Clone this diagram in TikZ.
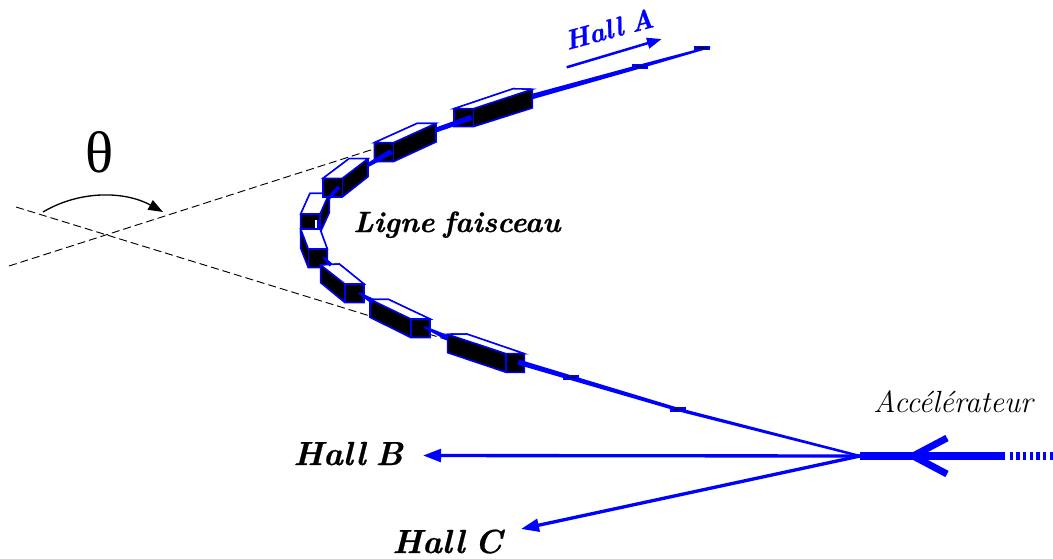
\documentclass[tikz,border=0pt]{standalone}
\usepackage{fontspec}
\newfontfamily\thetafont{Liberation Serif}
\newfontfamily\heavylab{Latin Modern Roman}[BoldItalicFeatures={FakeBold=0.7}]
\newcommand{\tightwords}{\spaceskip=.3em\relax}
\usetikzlibrary{arrows.meta,calc}
\definecolor{beamblue}{RGB}{0,0,255}
\tikzset{
  beamline/.style={draw=beamblue,line cap=butt},
  guide/.style={draw=black,line width=0.7pt,dash pattern=on 6pt off 3pt},
  hallarrow/.style={beamline,line width=2.5pt,-{Triangle[length=13.5pt,width=9.5pt]}},
  magnetedge/.style={draw=beamblue,line width=1.15pt,line join=miter},
  boldlab/.style={inner sep=0pt,font={\fontsize{#1}{30}\heavylab\bfseries\itshape\tightwords}},
  halllabel/.style={boldlab=25,anchor=base west},
  taperfill/.style={fill=beamblue},
}
\newcommand{\magnetR}[7]{% rear on the right (upper arc)
  \filldraw[magnetedge,fill=black] (#1,#3) -- (#5) -- (#6) -- (#7) -- (#2,#4) -- (#1,#4) -- cycle;
  \filldraw[magnetedge,fill=white] (#1,#3) -- (#5) -- (#6) -- (#2,#3) -- cycle;
  \draw[magnetedge] (#2,#3) -- (#2,#4);
}
\newcommand{\magnetL}[7]{% rear on the left (lower arc)
  \filldraw[magnetedge,fill=black] (#2,#3) -- (#6) -- (#5) -- (#7) -- (#1,#4) -- (#2,#4) -- cycle;
  \filldraw[magnetedge,fill=white] (#2,#3) -- (#6) -- (#5) -- (#1,#3) -- cycle;
  \draw[magnetedge] (#1,#3) -- (#1,#4);
}
\newcommand{\taper}[4]{% from #1 half width #3 to #2 half width #4
  \fill[taperfill] ($(#1)!#3!90:(#2)$) -- ($(#2)!#4!-90:(#1)$) -- ($(#2)!#4!90:(#1)$) -- ($(#1)!#3!-90:(#2)$) -- cycle;
}
\newcommand{\beammark}[1]{%
  \draw[beamblue,line width=3.2pt] ($(#1)+(-8,0)$) -- ($(#1)+(8,0)$);
  \draw[black,line width=0.9pt] ($(#1)+(-5,0)$) -- ($(#1)+(5,0)$);
}
\begin{document}
\begin{tikzpicture}[x=0.75pt,y=-0.75pt]
\useasboundingbox (0,0) rectangle (1053,558);

% dashed axes
\coordinate (axisAstart) at (16,207);
\coordinate (axisAend) at (448,340);
\coordinate (axisBstart) at (9,266);
\coordinate (axisBend) at (455,123);
\draw[guide] (axisAstart) -- (axisAend);
\draw[guide] (axisBstart) -- (axisBend);

% angle
\coordinate (arcstart) at (43,212);
\coordinate (arcend) at (163,212);
\draw[line width=1pt,-{Triangle[length=11pt,width=8pt]}] (arcstart) .. controls (80,190) and (125,191) .. (arcend);
\node[inner sep=0pt] (theta) at (100,152) {\fontsize{44}{50}\selectfont\thetafont θ};

% magnets, upper arc
\magnetR{300.7}{320}{214}{233}{310,193.3}{329.3,193.3}{329.3,212.7}
\magnetR{323}{342.3}{178.3}{197}{349,158.7}{368,158.7}{368,176.7}
\magnetR{374.3}{393.3}{142.7}{161.7}{417.3,123.3}{436,123.3}{436,142}
\magnetR{454}{473.3}{108.7}{126.7}{513.3,88.7}{532.3,89.3}{532.3,108}
% beam seen in the face of the fourth magnet
\coordinate (m4gapA) at (316,220);
\coordinate (m4gapB) at (316,230);
\coordinate (m4faceA) at (318,220);
\coordinate (m4faceB) at (318,230);
\draw[white,line width=1pt] (m4gapA) -- (m4gapB);
\draw[beamblue,line width=1.2pt] (m4faceA) -- (m4faceB);
% magnets, lower arc
\magnetL{308.3}{327.3}{249}{267.7}{300.7,229}{320,229}{300.7,248.3}
\magnetL{345}{364}{284}{302.7}{320.7,265}{339.3,264}{320.7,282.7}
\magnetL{411}{430}{319}{337.7}{370,299.3}{388.3,299.3}{370,317.3}
\magnetL{506}{524.3}{353.7}{372.3}{447.7,334.3}{466.7,334}{447.7,352.7}

% beam pieces
\coordinate (junction) at (860,456);
\coordinate (markD) at (678,409.5);
\coordinate (markC) at (571,377.5);
\coordinate (m8face) at (518,362);
\coordinate (m8rear) at (447.7,338);
\coordinate (m7face) at (424.5,327);
\coordinate (m7rear) at (373,301.5);
\coordinate (m6face) at (359,293);
\coordinate (m6rear) at (331,265);
\coordinate (m5face) at (323,257);
\coordinate (m4rear) at (329,198);
\coordinate (m3face) at (339,187);
\coordinate (m3rear) at (368,165);
\coordinate (m2face) at (391.5,151.5);
\coordinate (m2rear) at (436,130);
\coordinate (m1face) at (471.5,117.5);
\coordinate (m1rear) at (532.3,96.5);
\coordinate (markA) at (640,66.5);
\coordinate (markB) at (702,48);
\coordinate (beamend) at (710,47);
\taper{junction}{markD}{0.9pt}{1.3pt}
\taper{markD}{m8face}{1.3pt}{2pt}
\taper{m7face}{m8rear}{0.8pt}{2pt}
\taper{m6face}{m7rear}{0.8pt}{2pt}
\taper{m5face}{m6rear}{0.6pt}{1.5pt}
\taper{m3face}{m4rear}{1.5pt}{1.2pt}
\taper{m2face}{m3rear}{2pt}{1.5pt}
\taper{m1face}{m2rear}{2pt}{1.8pt}
\taper{m1rear}{markA}{2pt}{1.5pt}
\taper{markA}{beamend}{1.5pt}{0.8pt}
\beammark{markA}
\beammark{markB}
\beammark{markC}
\beammark{markD}

% entry of the accelerator
\coordinate (linacend) at (1005,456);
\coordinate (linacfar) at (1053,456);
\coordinate (chevtip) at (913,456);
\coordinate (chevup) at (947,438);
\coordinate (chevdown) at (947,474);
\draw[beamline,line width=6pt] (junction) -- (linacend);
\draw[beamline,line width=6pt,dash pattern=on 2.5pt off 2.5pt,shorten <=3.5pt] (linacend) -- (linacfar);
\draw[beamline,line width=5.2pt,line join=miter] (chevup) -- (chevtip) -- (chevdown);

% halls
\node[halllabel] (hallB) at (293,465) {Hall B};
\node[halllabel] (hallC) at (392,553) {Hall C};
\coordinate (tipB) at (423,455.5);
\coordinate (tipC) at (521,529);
\draw[hallarrow] (junction) -- (tipB);
\draw[hallarrow] (junction) -- (tipC);

\coordinate (hallAtail) at (566.7,67.3);
\coordinate (hallAtip) at (661.7,39);
\draw[beamline,line width=1.9pt,-{Triangle[length=11pt,width=8pt]}] (hallAtail) -- (hallAtip);
\node[boldlab=20.5,text=beamblue,rotate=15] (hallA) at (609,29) {Hall A};

\node[boldlab=22,anchor=base west] (ligne) at (353,232) {Ligne faisceau};
\node[inner sep=0pt,anchor=base west,font={\fontsize{23}{27}\selectfont\itshape}] (accel) at (873,412) {Accélérateur};
\end{tikzpicture}
\end{document}
